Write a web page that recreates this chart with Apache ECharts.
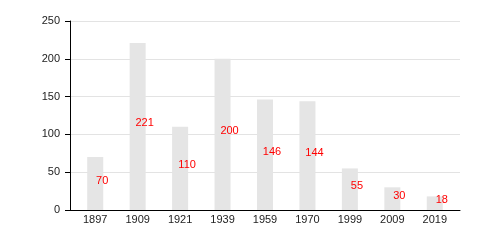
<!DOCTYPE html>
<html><head><meta charset="utf-8">
<script src="https://cdn.jsdelivr.net/npm/echarts@6/dist/echarts.min.js"></script>
<style>html,body{margin:0;padding:0;background:#fff}#c{width:500px;height:250px}</style>
</head><body><div id="c"></div>
<script>
const categories = ['1897','1909','1921','1939','1959','1970','1999','2009','2019'];
const values = [70, 221, 110, 200, 146, 144, 55, 30, 18];
const yTicks = [0, 50, 100, 150, 200, 250];

const chart = echarts.init(document.getElementById('c'), null, {renderer:'canvas'});
const font = 'Liberation Sans, Arial, sans-serif';
chart.setOption({
  animation: false,
  grid: [
    {left: 70, right: 40, top: 21, bottom: 40},
    {left: 74, right: 44, top: 21, bottom: 40}
  ],
  xAxis: [
    {gridIndex: 0, type: 'value', min: 0, max: 1, axisLine: {show: true, onZero: false, lineStyle: {color: '#000', width: 1}},
     axisTick: {show: false}, axisLabel: {show: false}, splitLine: {show: false}},
    {gridIndex: 1, type: 'category', data: categories, axisLine: {show: false}, axisTick: {show: false},
     axisLabel: {color: '#222', fontSize: 11, fontFamily: font, margin: 4}}
  ],
  yAxis: [
    {gridIndex: 0, type: 'value', min: yTicks[0], max: yTicks[yTicks.length-1], interval: 50,
     axisLine: {show: true, lineStyle: {color: '#000', width: 1}},
     axisTick: {show: true, length: 5, lineStyle: {color: '#000'}},
     axisLabel: {color: '#222', fontSize: 11, fontFamily: font, margin: 10},
     splitLine: {show: true, lineStyle: {color: '#e3e3e3', width: 1}}},
    {gridIndex: 1, type: 'value', min: yTicks[0], max: yTicks[yTicks.length-1], interval: 50, show: false}
  ],
  series: [{
    type: 'bar', xAxisIndex: 1, yAxisIndex: 1, data: values, barWidth: 16,
    itemStyle: {color: '#e5e5e5'},
    label: {show: true, position: 'inside', offset: [7, -3], color: '#ff0000', fontSize: 11, fontFamily: font}
  }]
});
</script></body></html>
